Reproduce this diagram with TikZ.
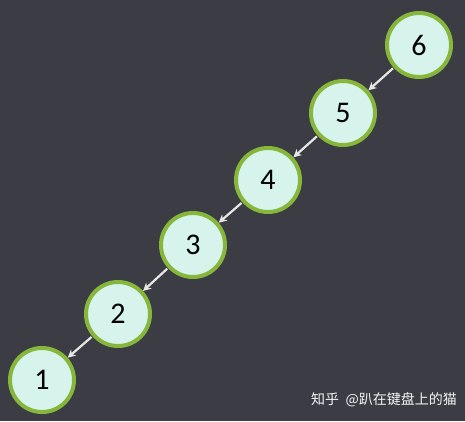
\documentclass[tikz,border=0pt]{standalone}
\usepackage{fontspec}
\setmainfont{Carlito}
\newfontfamily\cjk{Noto Sans CJK SC}
\usetikzlibrary{arrows.meta}
\definecolor{bg}{HTML}{3B3C44}
\definecolor{nodefill}{HTML}{D6F4EC}
\definecolor{nodeborder}{HTML}{86B73A}
\definecolor{arrowc}{HTML}{E6E6E6}
\tikzset{
  tnode/.style={circle, draw=nodeborder, line width=4pt, fill=nodefill, minimum size=64pt, inner sep=0pt, font=\fontsize{30}{30}\selectfont, text=black},
  link/.style={draw=arrowc, line width=2.2pt, -{Stealth[length=8pt,width=8pt]}, shorten >=0pt, shorten <=1pt}
}
\begin{document}
\begin{tikzpicture}[x=1pt,y=-1pt]
\fill[bg] (0,0) rectangle (465,421);
\useasboundingbox (0,0) rectangle (465,421);
\node[tnode] (n6) at (419,45) {6};
\node[tnode] (n5) at (343,113) {5};
\node[tnode] (n4) at (268,180) {4};
\node[tnode] (n3) at (193,245) {3};
\node[tnode] (n2) at (118,314) {2};
\node[tnode] (n1) at (42,380) {1};
\draw[link] (n6) -- (n5);
\draw[link] (n5) -- (n4);
\draw[link] (n4) -- (n3);
\draw[link] (n3) -- (n2);
\draw[link] (n2) -- (n1);
\node[font=\cjk\fontsize{14}{14}\selectfont, text=white!92!gray, anchor=center] (wm) at (384,400) {知乎\ \ @趴在键盘上的猫};
\end{tikzpicture}
\end{document}
